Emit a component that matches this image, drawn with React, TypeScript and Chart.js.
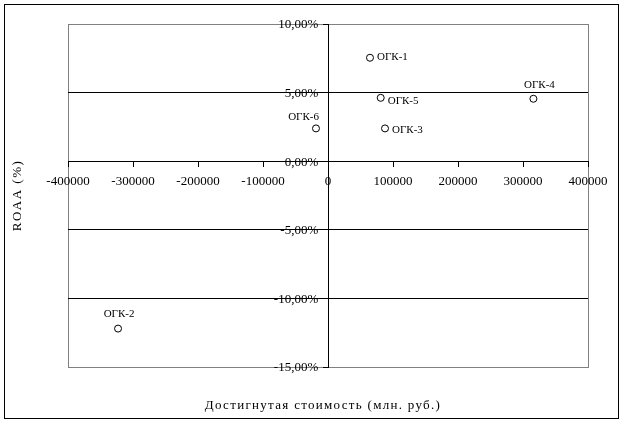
import React, { useEffect, useRef } from "react";
import { Chart, registerables } from "chart.js";

Chart.register(...registerables);

const companies = ["ОГК-1", "ОГК-2", "ОГК-3", "ОГК-4", "ОГК-5", "ОГК-6"];
const achievedValue = [64600, -323000, 87700, 316000, 81100, -18500];
const roaa = [7.54, -12.2, 2.39, 4.55, 4.62, 2.39];

const xMin = -400000;
const xMax = 400000;
const xStep = 100000;
const yMin = -15;
const yMax = 10;
const yStep = 5;

const xTitle = "Достигнутая стоимость (млн. руб.)";
const yTitle = "ROAA (%)";

// label placement per point: [dx, dy, align]
const labelPlacement: [number, number, CanvasTextAlign][] = [
  [7, -1, "left"],
  [1, -14, "center"],
  [7, 2, "left"],
  [6, -14, "center"],
  [7, 3, "left"],
  [3, -11, "right"],
];

const FONT = "'Liberation Serif', 'Times New Roman', serif";

const framePlugin = {
  id: "frame",
  beforeDraw(chart: any) {
    const { ctx, chartArea, width, height } = chart;
    ctx.save();
    ctx.fillStyle = "#ffffff";
    ctx.fillRect(0, 0, width, height);
    ctx.strokeStyle = "#000000";
    ctx.lineWidth = 1;
    ctx.strokeRect(4.5, 4.5, 614, 414);
    ctx.strokeStyle = "#808080";
    ctx.strokeRect(
      Math.round(chartArea.left) + 0.5,
      Math.round(chartArea.top) + 0.5,
      Math.round(chartArea.right - chartArea.left),
      Math.round(chartArea.bottom - chartArea.top)
    );
    ctx.restore();
  },
  afterDraw(chart: any) {
    const { ctx, chartArea } = chart;
    ctx.save();
    ctx.fillStyle = "#000000";
    ctx.font = `13px ${FONT}`;
    (ctx as any).letterSpacing = "1.3px";
    ctx.textAlign = "center";
    ctx.textBaseline = "middle";
    ctx.fillText(xTitle, (chartArea.left + chartArea.right) / 2 - 5, 406);
    ctx.translate(18, (chartArea.top + chartArea.bottom) / 2);
    ctx.rotate(-Math.PI / 2);
    (ctx as any).letterSpacing = "1.5px";
    ctx.fillText(yTitle, 0, 0);
    ctx.restore();
  },
};

const pointLabelPlugin = {
  id: "pointLabels",
  afterDatasetsDraw(chart: any) {
    const { ctx } = chart;
    const meta = chart.getDatasetMeta(0);
    ctx.save();
    ctx.fillStyle = "#000000";
    ctx.font = `11px ${FONT}`;
    ctx.textBaseline = "middle";
    meta.data.forEach((pt: any, i: number) => {
      const [dx, dy, align] = labelPlacement[i];
      ctx.textAlign = align;
      ctx.fillText(companies[i], pt.x + dx, pt.y + dy);
    });
    ctx.restore();
  },
};

export default function App() {
  const canvasRef = useRef<HTMLCanvasElement | null>(null);

  useEffect(() => {
    document.body.style.margin = "0";
    const canvas = canvasRef.current!;
    Chart.defaults.font.family = FONT;
    Chart.defaults.color = "#000000";
    const chart = new Chart(canvas, {
      type: "scatter",
      data: {
        datasets: [
          {
            label: "ROAA",
            data: achievedValue.map((x, i) => ({ x, y: roaa[i] })),
            pointStyle: "circle",
            pointRadius: 3.5,
            pointBorderWidth: 1,
            pointBorderColor: "#000000",
            pointBackgroundColor: "#ffffff",
          },
        ],
      },
      options: {
        responsive: false,
        animation: false,
        devicePixelRatio: 1,
        layout: { padding: { left: 68, top: 24, right: 36, bottom: 56 } },
        plugins: {
          legend: { display: false },
          tooltip: { enabled: false },
          title: { display: false },
        },
        scales: {
          x: {
            type: "linear",
            position: { y: 0 } as any,
            min: xMin,
            max: xMax,
            ticks: {
              stepSize: xStep,
              padding: 8,
              maxRotation: 0,
              autoSkip: false,
              font: { size: 13, family: FONT },
              color: "#000000",
              callback: (v: any) => String(v),
            },
            grid: {
              drawOnChartArea: false,
              drawTicks: true,
              tickLength: 5,
              tickColor: "#000000",
            },
            border: { display: true, color: "#000000", width: 1 },
          },
          y: {
            type: "linear",
            position: { x: 0 } as any,
            min: yMin,
            max: yMax,
            ticks: {
              stepSize: yStep,
              padding: 5,
              labelOffset: 1,
              autoSkip: false,
              font: { size: 13, family: FONT },
              color: "#000000",
              // trailing spaces keep the label clear of the crossing axis
              callback: (v: any) => Number(v).toFixed(2).replace(".", ",") + "%   ",
            },
            grid: {
              drawOnChartArea: true,
              drawTicks: true,
              tickLength: 5,
              tickColor: "#000000",
              color: (c: any) =>
                c.tick && (c.tick.value === yMax || c.tick.value === yMin) ? "#808080" : "#000000",
              lineWidth: 1,
            },
            border: { display: true, color: "#000000", width: 1 },
          },
        },
      },
      plugins: [framePlugin, pointLabelPlugin],
    });
    return () => chart.destroy();
  }, []);

  return (
    <div style={{ position: "absolute", left: 0, top: 0, width: 624, height: 423 }}>
      <canvas ref={canvasRef} width={624} height={423} style={{ width: 624, height: 423 }} />
    </div>
  );
}
